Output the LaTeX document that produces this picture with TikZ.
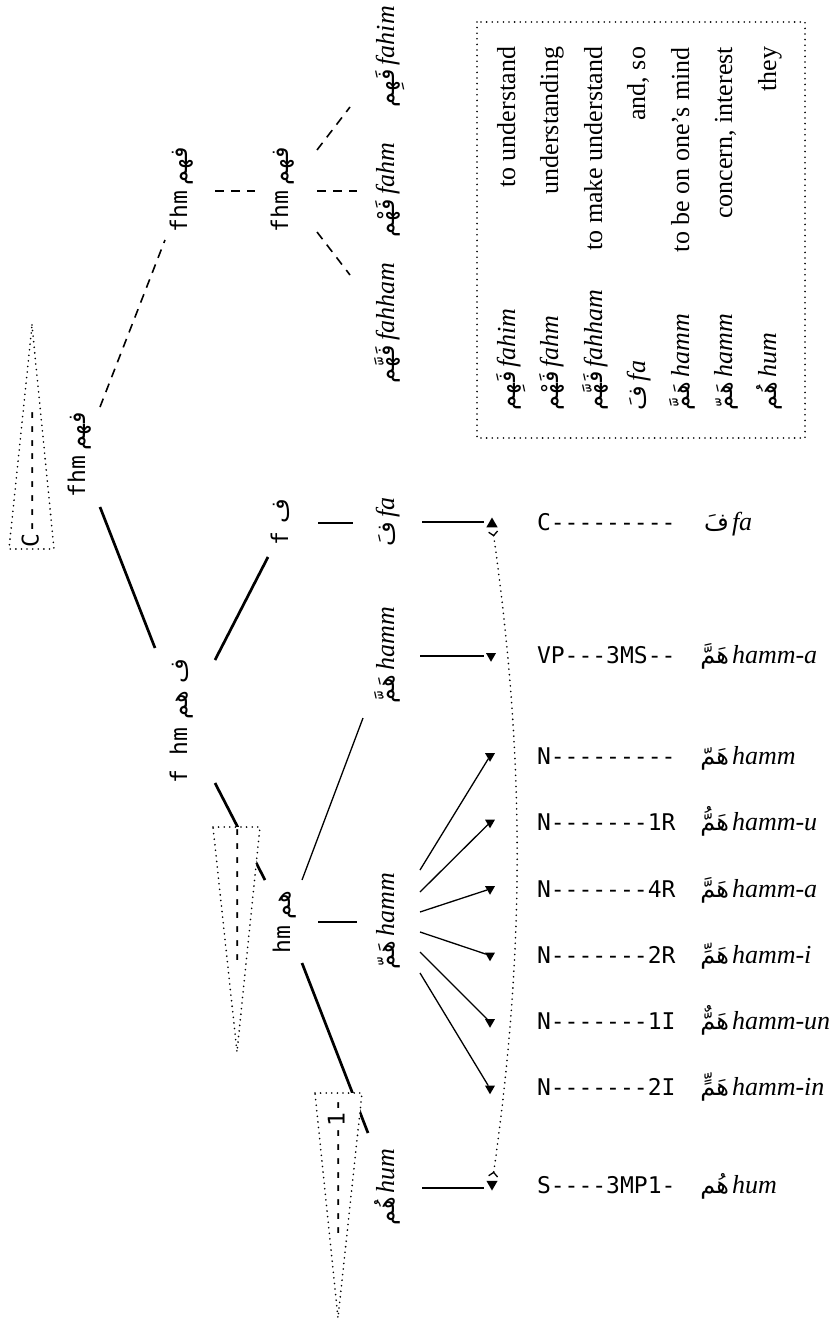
\documentclass[tikz,border=0pt]{standalone}
\usepackage{fontspec}
\setmainfont{Liberation Serif}
\setmonofont{DejaVu Sans Mono}
\newfontfamily\arfont[Script=Arabic]{DejaVu Sans}
\TeXXeTstate=1
\usetikzlibrary{shapes.geometric,arrows.meta}
\newcommand\AR[1]{{\fontsize{24}{28}\selectfont\arfont\beginR #1\endR}}
\newcommand\TT[1]{{\fontsize{23}{28}\selectfont\ttfamily #1}}
\newcommand\IT[1]{{\fontsize{26}{30}\selectfont\itshape #1}}
\newcommand\RM[1]{{\fontsize{26}{30}\selectfont #1}}
\begin{document}
\begin{tikzpicture}[x=1pt,y=-1pt,
  every node/.style={inner sep=0pt,outer sep=0pt},
  rot/.style={rotate=90,anchor=base},
  rotw/.style={rotate=90,anchor=base west},
  rote/.style={rotate=90,anchor=base east},
  boldln/.style={line width=2.7pt},
  thinln/.style={line width=1.3pt},
  dashln/.style={line width=1.6pt,dash pattern=on 9pt off 7pt},
  dotln/.style={line width=1.8pt,line cap=round,dash pattern=on 0pt off 5.6pt},
  tri/.style={dotln,fill=white},
  mkdn/.style={regular polygon,regular polygon sides=3,shape border rotate=180,fill=black,minimum size=11.5pt},
  mkbig/.style={mkdn,minimum size=13pt},
  mkup/.style={mkbig,shape border rotate=0},
  tagw/.style={anchor=base west},
  are/.style={anchor=base east},
  itw/.style={anchor=base west},
  barb/.tip={Straight Barb[reversed,length=4pt,width=9pt,line width=1.3pt]}
]
\useasboundingbox (0,0) rectangle (838,1321);

% ---------- tree nodes (rotated) ----------
\node[rot] (root) at (85,455) {\TT{fhm}\hspace{5pt}\AR{فهم}};
\node[rot] (n2) at (187,190) {\TT{fhm}\hspace{5pt}\AR{فهم}};
\node[rot] (n3) at (288,190) {\TT{fhm}\hspace{5pt}\AR{فهم}};
\node[rot] (lfahim) at (394,57) {\AR{فَهِم}\hspace{4pt}\IT{fahim}};
\node[rot] (lfahm) at (394,190) {\AR{فَهْم}\hspace{4pt}\IT{fahm}};
\node[rot] (lfahham) at (394,323) {\AR{فَهَّم}\hspace{4pt}\IT{fahham}};
\node[rot] (fhm) at (187,721) {\TT{f hm}\hspace{8pt}\AR{ف هم}};
\node[rot] (f) at (288,522) {\TT{f}\hspace{8pt}\AR{ف}};
\node[rot] (hm) at (290,922) {\TT{hm}\hspace{6pt}\AR{هم}};
\node[rot] (lfa) at (394,522) {\AR{فَ}\hspace{4pt}\IT{fa}};
\node[rot] (lhamma) at (394,655) {\AR{هَمَّ}\hspace{4pt}\IT{hamm}};
\node[rot] (lhamm) at (394,921) {\AR{هَمّ}\hspace{4pt}\IT{hamm}};
\node[rot] (lhum) at (394,1187) {\AR{هُم}\hspace{4pt}\IT{hum}};

% ---------- connector end points ----------
\coordinate (rt1) at (100,407); \coordinate (n2a) at (165,240);
\coordinate (n2b) at (215,191); \coordinate (n3a) at (255,191);
\coordinate (n3b) at (317,150); \coordinate (fahimA) at (350,107);
\coordinate (n3c) at (317,191); \coordinate (fahmA) at (357,191);
\coordinate (n3d) at (317,232); \coordinate (fahhamA) at (350,275);
\coordinate (rt2) at (100,507); \coordinate (fhmA) at (155,648);
\coordinate (fhmB) at (215,660); \coordinate (fA) at (268,557);
\coordinate (fB) at (318,523); \coordinate (faA) at (353,523);
\coordinate (fhmC) at (215,783); \coordinate (hmA) at (265,880);
\coordinate (hmB) at (302,963); \coordinate (humA) at (368,1133);
\coordinate (hmC) at (302,880); \coordinate (hammaA) at (363,718);
\coordinate (hmD) at (318,922); \coordinate (hammA) at (357,922);
\coordinate (faB) at (422,522);
\coordinate (hammaB) at (420,656);
\coordinate (humB) at (422,1188);
\coordinate (fan1) at (420,870);
\coordinate (fan2) at (420,892);
\coordinate (fan3) at (420,912);
\coordinate (fan4) at (420,932);
\coordinate (fan5) at (420,952);
\coordinate (fan6) at (420,973);
\coordinate (arcA) at (493,531);
\coordinate (arcB) at (493,1177);

% ---------- markers ----------
\node[mkup] (mfa) at (492,524) {};
\node[mkdn] (mva) at (491,656) {};
\node[mkdn] (m1) at (490,756) {};
\node[mkdn] (m2) at (490,822.5) {};
\node[mkdn] (m3) at (490,889) {};
\node[mkdn] (m4) at (490,955.5) {};
\node[mkdn] (m5) at (490,1022) {};
\node[mkdn] (m6) at (490,1088.5) {};
\node[mkbig] (mhum) at (492,1184) {};

% ---------- connectors ----------
\draw[dashln] (rt1) -- (n2a);
\draw[dashln] (n2b) -- (n3a);
\draw[dashln] (n3b) -- (fahimA);
\draw[dashln] (n3c) -- (fahmA);
\draw[dashln] (n3d) -- (fahhamA);
\draw[boldln] (rt2) -- (fhmA);
\draw[boldln] (fhmB) -- (fA);
\draw[boldln] (fB) -- (faA);
\draw[boldln] (fhmC) -- (hmA);
\draw[boldln] (hmB) -- (humA);
\draw[thinln] (hmC) -- (hammaA);
\draw[thinln] (hmD) -- (hammA);
\draw[boldln,shorten >=4pt] (faB) -- (faB -| mfa.west);
\draw[thinln,shorten >=4pt] (hammaB) -- (hammaB -| mva.west);
\draw[boldln,shorten >=4pt] (humB) -- (humB -| mhum.west);
\draw[thinln] (fan1) -- (m1);
\draw[thinln] (fan2) -- (m2);
\draw[thinln] (fan3) -- (m3);
\draw[thinln] (fan4) -- (m4);
\draw[thinln] (fan5) -- (m5);
\draw[thinln] (fan6) -- (m6);
\draw[dotln,barb-barb] (arcA) .. controls (525,760) and (525,950) .. (arcB);

% ---------- feature triangles ----------
\draw[tri] (32,325) -- (54,549) -- (9,549) -- cycle;
\node[rotw] (tC) at (38.5,547) {\TT{C---------}};
\draw[tri] (213,827) -- (260,827) -- (237,1052) -- cycle;
\node[rote] (tN) at (243.5,826) {\TT{----------}};
\draw[tri] (315,1093) -- (362,1093) -- (338,1318) -- cycle;
\node[rote] (tS) at (344.5,1099) {\TT{--------1-}};

% ---------- gloss box ----------
\draw[dotln] (477,22) rectangle (805,438);
\node[rotw] (b1) at (515,410) {\AR{فَهِم}\hspace{4pt}\IT{fahim}};
\node[rote] (g1) at (515,47) {\RM{to understand}};
\node[rotw] (b2) at (558,410) {\AR{فَهْم}\hspace{4pt}\IT{fahm}};
\node[rote] (g2) at (558,47) {\RM{understanding}};
\node[rotw] (b3) at (602,410) {\AR{فَهَّم}\hspace{4pt}\IT{fahham}};
\node[rote] (g3) at (602,47) {\RM{to make understand}};
\node[rotw] (b4) at (645,410) {\AR{فَ}\hspace{4pt}\IT{fa}};
\node[rote] (g4) at (645,47) {\RM{and, so}};
\node[rotw] (b5) at (689,410) {\AR{هَمَّ}\hspace{4pt}\IT{hamm}};
\node[rote] (g5) at (689,47) {\RM{to be on one’s mind}};
\node[rotw] (b6) at (732,410) {\AR{هَمّ}\hspace{4pt}\IT{hamm}};
\node[rote] (g6) at (732,47) {\RM{concern, interest}};
\node[rotw] (b7) at (776,410) {\AR{هُم}\hspace{4pt}\IT{hum}};
\node[rote] (g7) at (776,47) {\RM{they}};

% ---------- analysis column ----------
\node[tagw] (t1) at (537,530) {\TT{C---------}};
\node[are] (a1) at (729,530) {\AR{فَ}};
\node[itw] (i1) at (732,530) {\IT{fa}};
\node[tagw] (t2) at (537,663) {\TT{VP---3MS--}};
\node[are] (a2) at (729,663) {\AR{هَمَّ}};
\node[itw] (i2) at (732,663) {\IT{hamm-a}};
\node[tagw] (t3) at (537,764) {\TT{N---------}};
\node[are] (a3) at (729,764) {\AR{هَمّ}};
\node[itw] (i3) at (732,764) {\IT{hamm}};
\node[tagw] (t4) at (537,830.5) {\TT{N-------1R}};
\node[are] (a4) at (729,830.5) {\AR{هَمُّ}};
\node[itw] (i4) at (732,830.5) {\IT{hamm-u}};
\node[tagw] (t5) at (537,897) {\TT{N-------4R}};
\node[are] (a5) at (729,897) {\AR{هَمَّ}};
\node[itw] (i5) at (732,897) {\IT{hamm-a}};
\node[tagw] (t6) at (537,963.5) {\TT{N-------2R}};
\node[are] (a6) at (729,963.5) {\AR{هَمِّ}};
\node[itw] (i6) at (732,963.5) {\IT{hamm-i}};
\node[tagw] (t7) at (537,1029) {\TT{N-------1I}};
\node[are] (a7) at (729,1029) {\AR{هَمٌّ}};
\node[itw] (i7) at (732,1029) {\IT{hamm-un}};
\node[tagw] (t8) at (537,1095) {\TT{N-------2I}};
\node[are] (a8) at (729,1095) {\AR{هَمٍّ}};
\node[itw] (i8) at (732,1095) {\IT{hamm-in}};
\node[tagw] (t9) at (537,1193) {\TT{S----3MP1-}};
\node[are] (a9) at (729,1193) {\AR{هُم}};
\node[itw] (i9) at (732,1193) {\IT{hum}};
\end{tikzpicture}
\end{document}
